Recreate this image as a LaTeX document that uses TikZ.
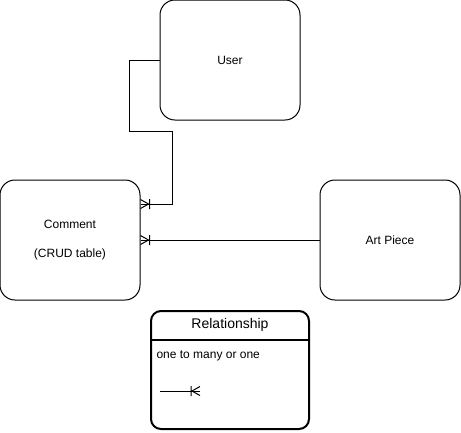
\documentclass[tikz,border=0pt]{standalone}
\usepackage{fontspec}
\setmainfont{Liberation Sans}
\usetikzlibrary{arrows.meta}

\pgfdeclarearrow{
  name = crowbar,
  setup code = {
    \pgfarrowssettipend{0pt}
    \pgfarrowssetlineend{0pt}
    \pgfarrowssetbackend{-10pt}
    \pgfarrowssetvisualbackend{-10pt}
    \pgfarrowshullpoint{0pt}{5pt}
    \pgfarrowshullpoint{0pt}{-5pt}
    \pgfarrowshullpoint{-10pt}{5pt}
    \pgfarrowshullpoint{-10pt}{-5pt}
  },
  drawing code = {
    \pgfsetdash{}{0pt}
    \pgfpathmoveto{\pgfqpoint{0pt}{4.5pt}}
    \pgfpathlineto{\pgfqpoint{-8pt}{0pt}}
    \pgfpathlineto{\pgfqpoint{0pt}{-4.5pt}}
    \pgfpathmoveto{\pgfqpoint{-9pt}{5pt}}
    \pgfpathlineto{\pgfqpoint{-9pt}{-5pt}}
    \pgfusepathqstroke
  }
}

\begin{document}
\begin{tikzpicture}[x=1pt,y=-1pt,>=crowbar,line width=1pt,font=\fontsize{12}{14.4}\selectfont]
    \tikzstyle{entity}=[draw,rounded corners=15pt,minimum width=140pt,minimum height=120pt,align=center,inner sep=0pt]
    \tikzstyle{legend}=[draw,line width=2pt,rounded corners=10pt,minimum width=158pt,minimum height=118pt]
    \useasboundingbox (0,0) rectangle (461,432);
    \node[entity] (usr) at (230,60)  {User};
    \node[entity] (cmt) at (70,240)  {Comment\\[14.4pt](CRUD table)};
    \node[entity] (art) at (390,240) {Art Piece};
    \node[legend] (rel) at (230,370) {};
    \node[font=\fontsize{14}{16}\selectfont] (reltitle) at (230,325) {Relationship};
    \draw[line width=2pt] (rel.west |- 0,340) -- (rel.east |- 0,340);
    \node[anchor=base west,inner sep=0pt] (reltext) at (156,358) {one to many or one};
    \coordinate (lgA) at (160,391);
    \coordinate (lgB) at (200,391);
    \draw[->] (usr.west) -- ++(-30,0) -- ++(0,71) -- ++(43,0) |- ([yshift=36pt]cmt.east);
    \draw[->] (art.west) -- (cmt.east);
    \draw[->] (lgA) -- (lgB);
\end{tikzpicture}
\end{document}
